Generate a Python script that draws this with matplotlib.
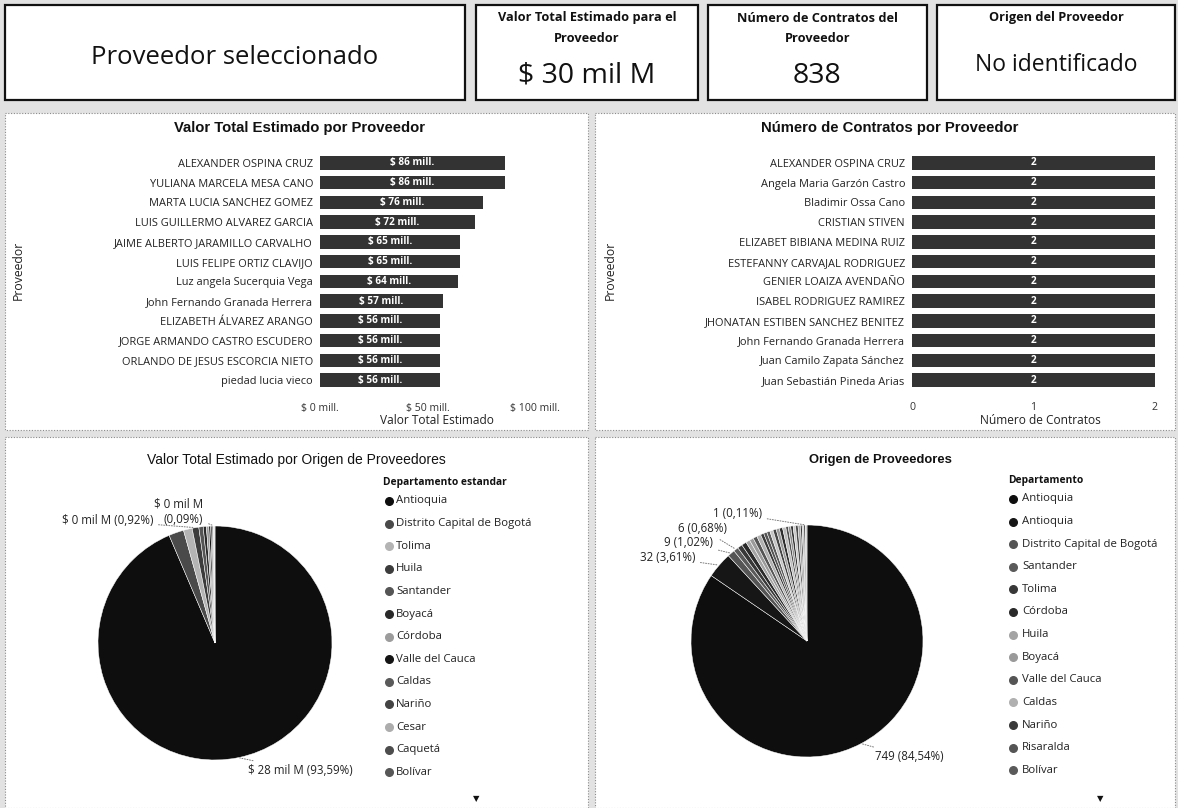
import matplotlib
matplotlib.use("Agg")
import matplotlib.pyplot as plt
from matplotlib.patches import Rectangle
import numpy as np

plt.rcParams['font.family'] = ['Open Sans', 'DejaVu Sans']

# ---------------- data ----------------
selected_label = "Proveedor seleccionado"
card_titles = [["Valor Total Estimado para el", "Proveedor"], ["Número de Contratos del", "Proveedor"],
               ["Origen del Proveedor"]]
card_values = ["$ 30 mil M", "838", "No identificado"]

valor_proveedores = ["ALEXANDER OSPINA CRUZ", "YULIANA MARCELA MESA CANO", "MARTA LUCIA SANCHEZ GOMEZ",
                     "LUIS GUILLERMO ALVAREZ GARCIA", "JAIME ALBERTO JARAMILLO CARVALHO",
                     "LUIS FELIPE ORTIZ CLAVIJO", "Luz angela Sucerquia Vega", "John Fernando Granada Herrera",
                     "ELIZABETH ÁLVAREZ ARANGO", "JORGE ARMANDO CASTRO ESCUDERO",
                     "ORLANDO DE JESUS ESCORCIA NIETO", "piedad lucia vieco"]
valor_mill = [86, 86, 76, 72, 65, 65, 64, 57, 56, 56, 56, 56]
valor_ticks = [0, 50, 100]

contratos_proveedores = ["ALEXANDER OSPINA CRUZ", "Angela Maria Garzón Castro", "Bladimir Ossa Cano",
                         "CRISTIAN STIVEN", "ELIZABET BIBIANA MEDINA RUIZ", "ESTEFANNY CARVAJAL RODRIGUEZ",
                         "GENIER LOAIZA AVENDAÑO", "ISABEL RODRIGUEZ RAMIREZ",
                         "JHONATAN ESTIBEN SANCHEZ BENITEZ", "John Fernando Granada Herrera",
                         "Juan Camilo Zapata Sánchez", "Juan Sebastián Pineda Arias"]
contratos = [2, 2, 2, 2, 2, 2, 2, 2, 2, 2, 2, 2]
contratos_ticks = [0, 1, 2]

valor_deptos = ["Antioquia", "Distrito Capital de Bogotá", "Tolima", "Huila", "Santander", "Boyacá",
                "Córdoba", "Valle del Cauca", "Caldas", "Nariño", "Cesar", "Caquetá", "Bolívar"]
valor_mil_m = [28.0, 0.62, 0.36, 0.276, 0.18, 0.13, 0.10, 0.075, 0.06, 0.045, 0.03, 0.027, 0.015]
valor_grays = ["#0e0e0e", "#4a4a4a", "#b4b4b4", "#3c3c3c", "#555555", "#2a2a2a", "#9c9c9c",
               "#141414", "#5a5a5a", "#444444", "#adadad", "#4d4d4d", "#575757"]

origen_deptos = ["Antioquia", "Antioquia", "Distrito Capital de Bogotá", "Santander", "Tolima", "Córdoba",
                 "Huila", "Boyacá", "Valle del Cauca", "Caldas", "Nariño", "Risaralda", "Bolívar",
                 "Cesar", "Caquetá", "Meta", "Quindío", "Cundinamarca", "Sucre", "Atlántico", "Magdalena",
                 "Cauca", "Chocó", "Casanare", "Putumayo", "La Guajira", "Arauca", "Guaviare", "Amazonas"]
origen_contratos = [749, 32, 9, 6, 6, 6, 5, 5, 5, 5, 4, 4, 4,
                    4, 4, 4, 4, 4, 3, 3, 3, 3, 3, 3, 2, 2, 2, 1, 1]
origen_grays = ["#0e0e0e", "#161616", "#555555", "#5a5a5a", "#383838", "#2a2a2a", "#a4a4a4",
                "#9a9a9a", "#555555", "#b0b0b0", "#3a3a3a", "#555555", "#5a5a5a",
                "#c4c4c4", "#444444", "#9a9a9a", "#2e2e2e", "#bdbdbd", "#505050", "#8e8e8e",
                "#333333", "#c8c8c8", "#4a4a4a", "#a8a8a8", "#3a3a3a", "#b8b8b8", "#555555",
                "#cfcfcf", "#444444"]

# ---------------- figure ----------------
W, H = 1178, 808
fig = plt.figure(figsize=(W / 100, H / 100), dpi=100)
fig.patch.set_facecolor('#e2e2e2')


def px_axes(x0, y0, x1, y1, **kw):
    return fig.add_axes([x0 / W, 1 - y1 / H, (x1 - x0) / W, (y1 - y0) / H], **kw)


deco = px_axes(0, 0, W, H)
deco.set_xlim(0, W)
deco.set_ylim(H, 0)
deco.axis('off')
deco.set_zorder(0)

# cards
cards = [(5, 5, 465, 100), (476, 5, 698, 100), (708, 5, 927, 100), (937, 5, 1175, 100)]
for (x0, y0, x1, y1) in cards:
    deco.add_patch(Rectangle((x0, y0), x1 - x0, y1 - y0, facecolor='white', edgecolor='#111111', lw=1.6))
# panels
panels = [(5, 113, 588, 430), (595, 113, 1175, 430), (5, 437, 588, 808), (595, 437, 1175, 808)]
for (x0, y0, x1, y1) in panels:
    deco.add_patch(Rectangle((x0, y0), x1 - x0, y1 - y0, facecolor='white', edgecolor='#8a8a8a',
                             lw=0.8, linestyle=(0, (1, 1.5))))

deco.text(235, 57, selected_label, ha='center', va='center', fontsize=18.5, color='#111111')
value_sizes = [20.5, 20.5, 16.5]
for (x0, y0, x1, y1), lines, v, fs in zip(cards[1:], card_titles, card_values, value_sizes):
    cx = (x0 + x1) / 2
    for k, line in enumerate(lines):
        deco.text(cx, 18 + 20 * k, line, ha='center', va='center', fontsize=9.2, fontweight='bold',
                  color='#111111')
    vy = 76 if len(lines) > 1 else 65
    deco.text(cx, vy, v, ha='center', va='center', fontsize=fs, color='#111111')


# ---------------- bar charts ----------------
def bar_chart(box, names, vals, ticks, tick_fmt, lab_fmt, title, title_x, xlabel, xlabel_x, ylab_x):
    ax = px_axes(*box)
    ax.set_zorder(2)
    ax.patch.set_alpha(0)
    y = np.arange(len(names))
    ax.barh(y, vals, height=0.68, color='#333333')
    for yi, v in zip(y, vals):
        ax.text(v / 2, yi, lab_fmt(v), ha='center', va='center', color='white', fontsize=7.2,
                fontweight='bold')
    ax.set_yticks(y)
    ax.set_yticklabels(names, fontsize=7.9, color='#222222')
    ax.set_ylim(len(names) - 0.5, -0.5)
    ax.set_xlim(ticks[0], ticks[-1])
    ax.set_xticks(ticks)
    ax.set_xticklabels([tick_fmt(t) for t in ticks], fontsize=7.6, color='#333333')
    ax.tick_params(length=0, axis='y', pad=5)
    ax.tick_params(length=0, axis='x', pad=9)
    for s in ax.spines.values():
        s.set_visible(False)
    deco.text(title_x, 128, title, ha='center', va='center', fontsize=10.7, fontweight='bold',
              family='Liberation Sans', color='#111111')
    deco.text(xlabel_x, 421, xlabel, ha='center', va='center', fontsize=8.6, color='#222222')
    deco.text(ylab_x, 270, "Proveedor", ha='center', va='center', rotation=90, fontsize=8.8,
              color='#222222')
    return ax


bar_chart((320, 153, 535, 390), valor_proveedores, valor_mill, valor_ticks,
          lambda t: f"$ {t} mill.", lambda v: f"$ {v} mill.",
          "Valor Total Estimado por Proveedor", 300, "Valor Total Estimado", 437, 18)
bar_chart((912, 153, 1155, 390), contratos_proveedores, contratos, contratos_ticks,
          lambda t: f"{t}", lambda v: f"{v}",
          "Número de Contratos por Proveedor", 890, "Número de Contratos", 1040, 610)


# ---------------- pies ----------------
def fmt_pct(p):
    return f"{p:.2f}".replace('.', ',') + "%"


def draw_pie(center, r, vals, grays, labels, textfn):
    cx, cy = center
    ax = px_axes(cx - r, cy - r, cx + r, cy + r)
    ax.set_zorder(2)
    wedges, _ = ax.pie(vals, colors=[grays[i % len(grays)] for i in range(len(vals))], startangle=90,
                       counterclock=False, radius=1,
                       wedgeprops=dict(edgecolor='white', linewidth=0.35))
    ax.set_xlim(-1, 1)
    ax.set_ylim(-1, 1)
    ax.set_aspect('equal')
    total = float(sum(vals))
    for idx, (tx, ty, ha) in labels.items():
        w = wedges[idx]
        mid = np.deg2rad((w.theta1 + w.theta2) / 2)
        anchor = (np.cos(mid), np.sin(mid))
        ax.annotate(textfn(vals[idx], vals[idx] / total * 100), xy=anchor, xytext=(tx, ty),
                    ha=ha, va='center', fontsize=8.3, color='#222222', multialignment='right',
                    annotation_clip=False, linespacing=1.3,
                    arrowprops=dict(arrowstyle='-', color='#777777', lw=0.7, linestyle=':',
                                    shrinkA=2, shrinkB=1))
    return ax


draw_pie((215, 643), 117, valor_mil_m, valor_grays,
         {0: (0.28, -1.09, 'left'), 3: (-0.53, 1.045, 'right'), 11: (-0.10, 1.12, 'right')},
         lambda v, p: (f"$ {v:.0f} mil M ({fmt_pct(p)})" if p > 0.5 else f"$ {v:.0f} mil M\n({fmt_pct(p)})"))
draw_pie((807, 641), 116, origen_contratos, origen_grays,
         {0: (0.59, -1.0, 'left'), 1: (-0.966, 0.716, 'right'), 2: (-0.81, 0.845, 'right'),
          3: (-0.69, 0.966, 'right'), origen_contratos.index(1): (-0.39, 1.095, 'right')},
         lambda v, p: f"{v} ({fmt_pct(p)})")

deco.text(296, 460, "Valor Total Estimado por Origen de Proveedores", ha='center', va='center',
          fontsize=10, family='Liberation Sans', color='#111111')
deco.text(880, 460, "Origen de Proveedores", ha='center', va='center', fontsize=9.4, fontweight='bold',
          family='Liberation Sans', color='#111111')


# ---------------- legends ----------------
def legend(x_title, y_title, title, names, grays, n_show, x_mark, x_text, y0):
    deco.text(x_title, y_title, title, ha='left', va='center', fontsize=7.4, fontweight='bold',
              color='#111111')
    for i in range(n_show):
        yy = y0 + i * 22.6
        deco.scatter([x_mark], [yy], s=30, color=grays[i], zorder=3)
        deco.text(x_text, yy, names[i], ha='left', va='center', fontsize=8.2, color='#222222')


legend(383, 483, "Departamento estandar", valor_deptos, valor_grays, 13, 389, 396, 501)
legend(1008, 481, "Departamento", origen_deptos, origen_grays, 13, 1013, 1022, 499)
deco.text(476, 800, "▼", ha='center', va='center', fontsize=6, color='#111111')
deco.text(1100, 800, "▼", ha='center', va='center', fontsize=6, color='#111111')

fig.savefig("out.png", dpi=100, facecolor=fig.get_facecolor())
